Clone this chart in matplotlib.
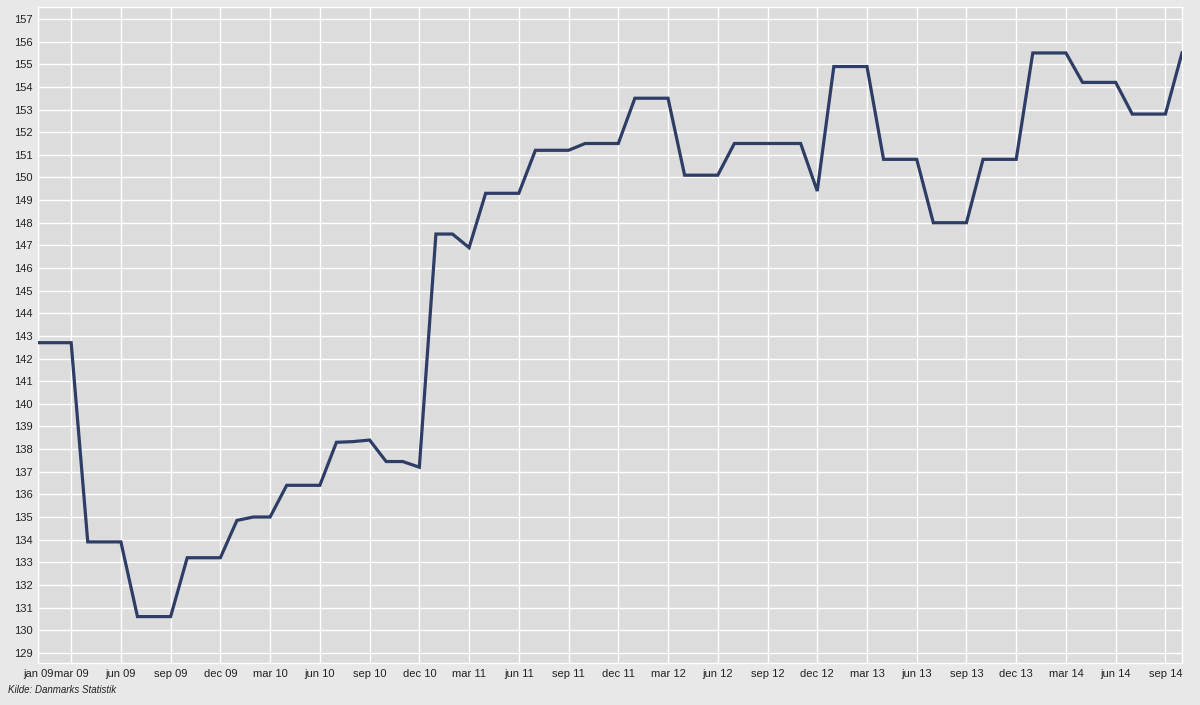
import numpy as np
import matplotlib
matplotlib.use('Agg')
import matplotlib.pyplot as plt

plt.rcParams['font.family'] = ['Liberation Sans', 'DejaVu Sans']

# monthly index values, jan 09 .. oct 14
values = [
    142.7, 142.7, 142.7, 133.9, 133.9, 133.9, 130.6, 130.6, 130.6, 133.2, 133.2, 133.2,
    134.85, 135.0, 135.0, 136.4, 136.4, 136.4, 138.3, 138.33, 138.4, 137.45, 137.45, 137.2,
    147.5, 147.5, 146.9, 149.3, 149.3, 149.3, 151.2, 151.2, 151.2, 151.5, 151.5, 151.5,
    153.5, 153.5, 153.5, 150.1, 150.1, 150.1, 151.5, 151.5, 151.5, 151.5, 151.5, 149.4,
    154.9, 154.9, 154.9, 150.8, 150.8, 150.8, 148.0, 148.0, 148.0, 150.8, 150.8, 150.8,
    155.5, 155.5, 155.5, 154.2, 154.2, 154.2, 152.8, 152.8, 152.8, 155.5,
]

tick_pos = [0] + list(range(2, 69, 3))
tick_labels = ['jan 09', 'mar 09', 'jun 09', 'sep 09', 'dec 09',
               'mar 10', 'jun 10', 'sep 10', 'dec 10',
               'mar 11', 'jun 11', 'sep 11', 'dec 11',
               'mar 12', 'jun 12', 'sep 12', 'dec 12',
               'mar 13', 'jun 13', 'sep 13', 'dec 13',
               'mar 14', 'jun 14', 'sep 14']
y_ticks = list(range(129, 158))

fig = plt.figure(figsize=(12, 7.05), dpi=100, facecolor='#e8e8e8')
ax = fig.add_axes([38 / 1200, 1 - 663 / 705, (1182 - 38) / 1200, (663 - 7) / 705])
ax.set_facecolor('#dcdcdc')

x = np.arange(len(values))
ax.plot(x, values, color='#2e3d66', linewidth=2.3, solid_joinstyle='miter', zorder=3)

ax.set_xlim(0, 69)
ax.set_ylim(128.55, 157.53)
ax.set_xticks(tick_pos)
ax.set_xticklabels(tick_labels)
ax.set_yticks(y_ticks)
ax.tick_params(length=0, labelsize=8, colors='#222222', pad=4)
ax.tick_params(axis='y', pad=4)

ax.grid(True, color='white', linewidth=1.0)
ax.set_axisbelow(True)
for s in ax.spines.values():
    s.set_color('white')
    s.set_linewidth(1.0)

fig.text(8 / 1200, 1 - 690 / 705, 'Kilde: Danmarks Statistik', fontsize=7,
         style='italic', color='#222222', va='center', ha='left')

fig.savefig('out.png', dpi=100, facecolor=fig.get_facecolor())
